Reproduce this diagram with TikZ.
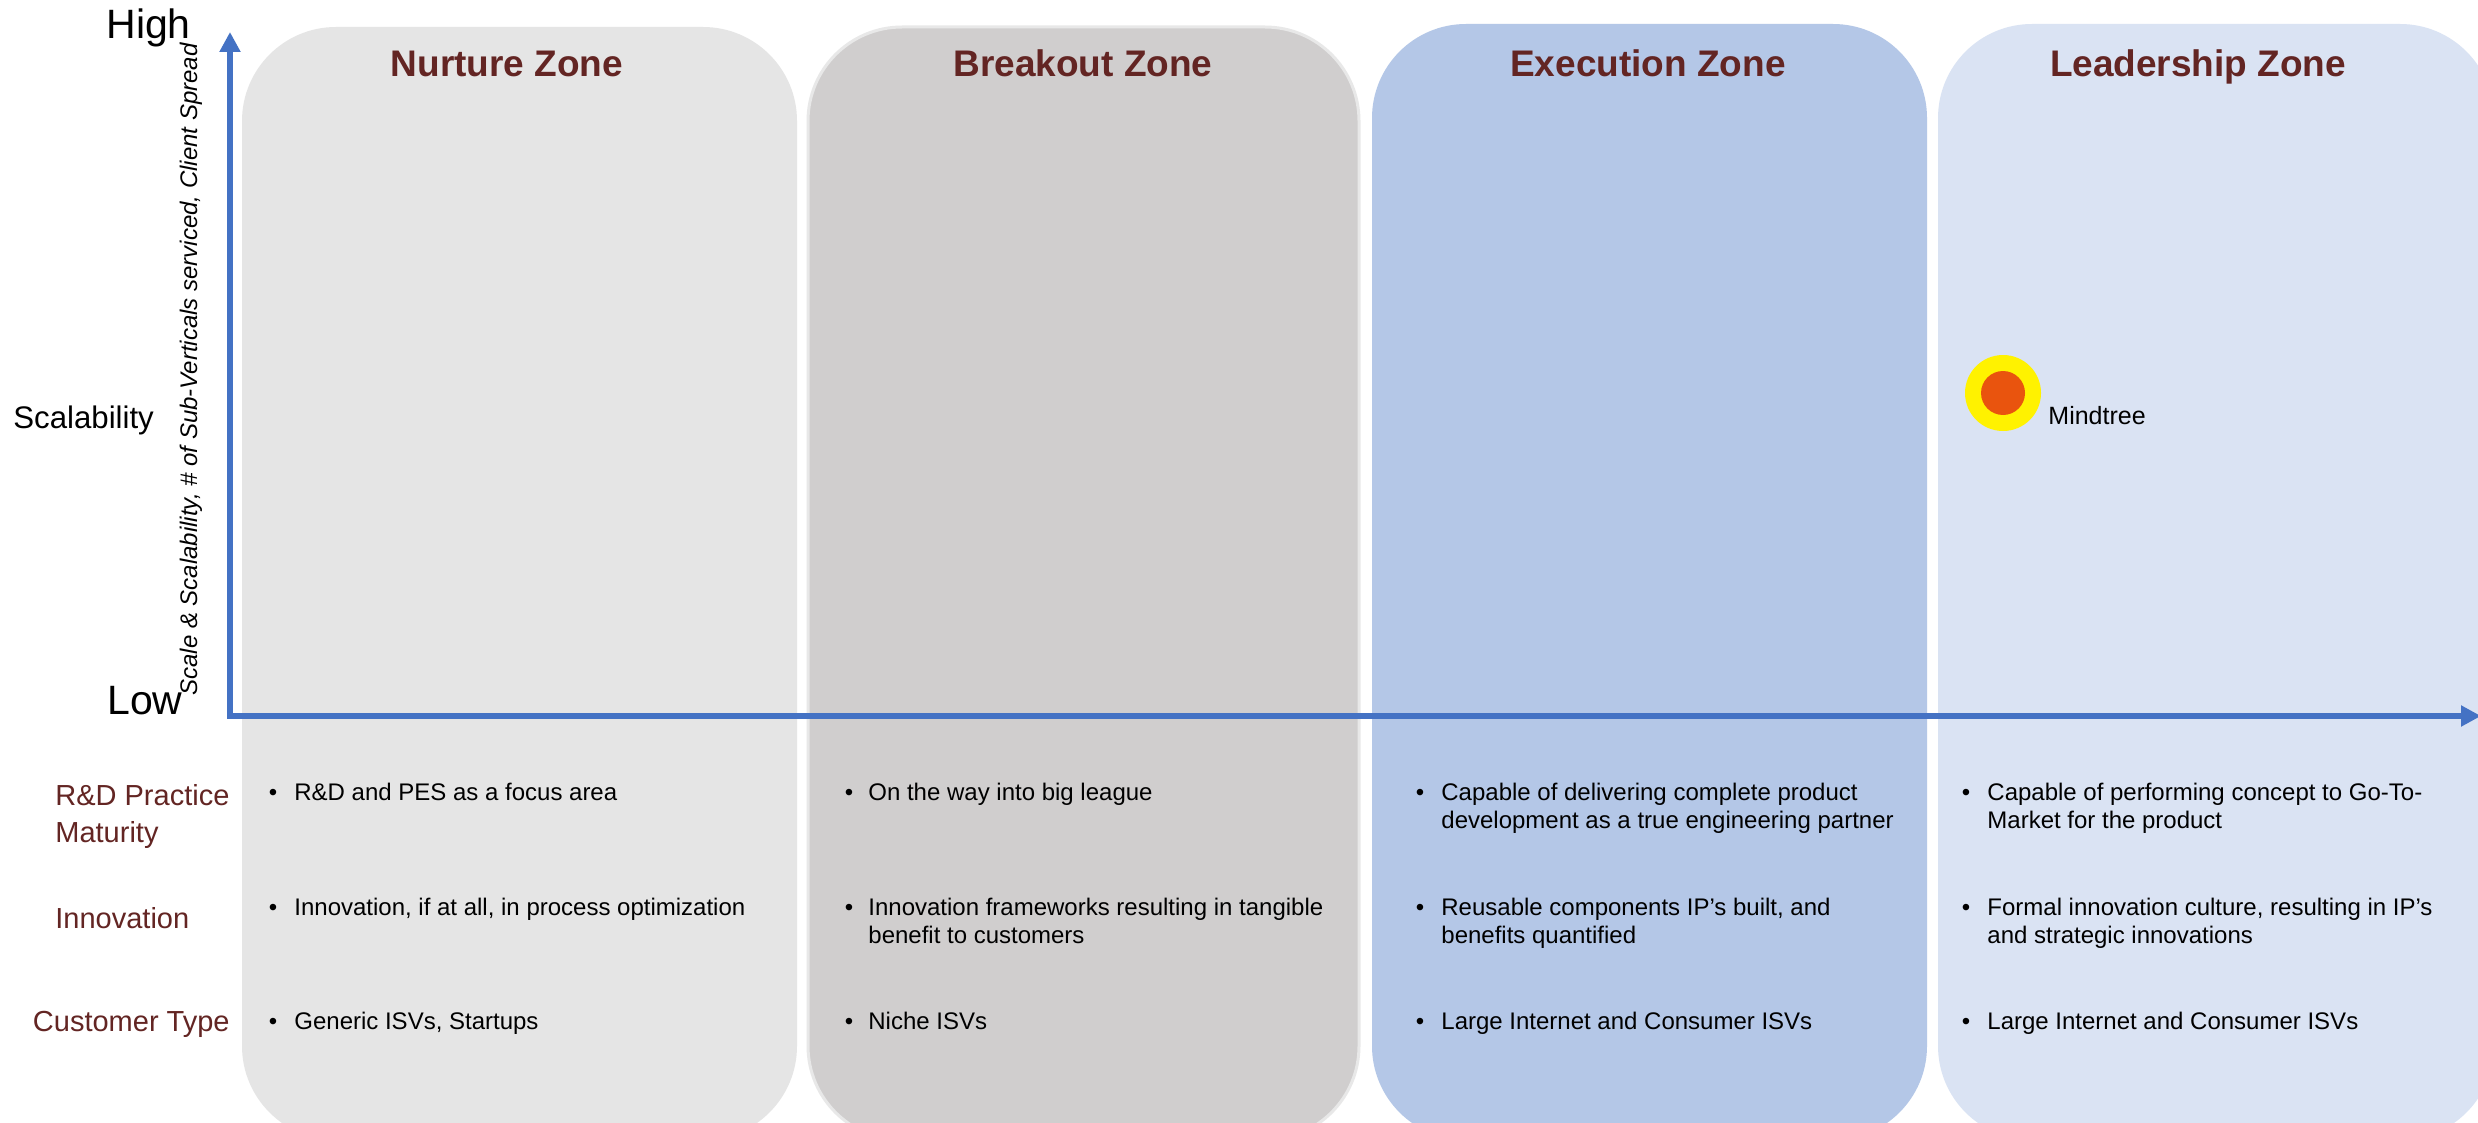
\documentclass[tikz,border=0pt]{standalone}
\usepackage{fontspec}
\setmainfont{Liberation Sans}
\usetikzlibrary{arrows.meta}
\definecolor{zred}{RGB}{99,37,35}
\definecolor{axisblue}{RGB}{68,114,196}
\definecolor{nurturefill}{RGB}{229,229,229}
\definecolor{breakfill}{RGB}{208,206,206}
\definecolor{breakedge}{RGB}{232,232,232}
\definecolor{execfill}{RGB}{180,199,231}
\definecolor{leadfill}{RGB}{218,227,243}
\definecolor{mtorange}{RGB}{233,84,14}
\newcommand\zoneitem[5]{%
  \node[bul] (#1b) at (#2,#4) {\textbullet};
  \node[btxt] (#1t) at (#3,#4) {\parbox[t]{300pt}{\raggedright #5}};
}
\begin{document}
\begin{tikzpicture}[x=0.5pt,y=-0.5pt,
  zone/.style={rounded corners=47pt},
  ztitle/.style={anchor=base, text=zred, font=\fontsize{18.5}{22}\selectfont\bfseries, inner sep=0},
  rowlab/.style={anchor=base west, text=zred, font=\fontsize{14.5}{18.5}\selectfont, inner sep=0},
  bul/.style={anchor=base, font=\fontsize{12}{14.25}\selectfont, inner sep=0},
  btxt/.style={anchor=base west, font=\fontsize{12}{14.25}\selectfont, inner sep=0},
  axisline/.style={line width=3pt, draw=axisblue, -{Triangle[length=10pt,width=10pt]}},
  big/.style={anchor=base west, font=\fontsize{20.5}{24}\selectfont, inner sep=0}
]
\useasboundingbox (0,0) rectangle (2478,1123);
\clip (0,0) rectangle (2478,1123);
\fill[white] (0,0) rectangle (2478,1123);

% zones
\fill[nurturefill, zone] (242,27) rectangle (797,1140);
\filldraw[fill=breakfill, draw=breakedge, line width=1.5pt, zone] (808,27) rectangle (1359,1140);
\fill[execfill, zone] (1372,24) rectangle (1927,1140);
\fill[leadfill, zone] (1938,24) rectangle (2494,1140);

% titles
\node[ztitle] (tn) at (507,77) {Nurture Zone};
\node[ztitle] (tb) at (1083,77) {Breakout Zone};
\node[ztitle] (te) at (1648,77) {Execution Zone};
\node[ztitle] (tl) at (2198,77) {Leadership Zone};

% axes
\coordinate (O) at (230,716);
\coordinate (Oc) at (227,716);
\coordinate (Ytip) at (230,32);
\coordinate (Xtip) at (2481,716);
\draw[axisline] (O) -- (Ytip);
\draw[axisline] (Oc) -- (Xtip);

\node[big] (high) at (106,39) {High};
\node[big] (low) at (107,714) {Low};
\node[anchor=base west, font=\fontsize{15.6}{18}\selectfont, inner sep=0] (scal) at (13,428) {Scalability};
\node[rotate=90, anchor=base west, font=\fontsize{12}{14}\selectfont\itshape, inner sep=0] (ylab) at (197,696)
  {Scale \& Scalability, \# of Sub-Verticals serviced, Client Spread};

% Mindtree
\node[circle, fill=yellow, minimum size=38pt, inner sep=0] (mt) at (2003,393) {};
\node[circle, fill=mtorange, minimum size=22pt, inner sep=0] (mtin) at (mt) {};
\node[anchor=base west, font=\fontsize{12.5}{15}\selectfont, inner sep=0] (mtl) at (2048,424) {Mindtree};

% row labels
\node[rowlab] (l1) at (55,805) {\parbox[t]{120pt}{\raggedright R\&D Practice\\Maturity}};
\node[rowlab] (l2) at (55,928) {Innovation};
\node[rowlab, anchor=base east] (l3) at (230,1031) {Customer Type};

% items
\zoneitem{n1}{273}{294}{800}{R\&D and PES as a focus area}
\zoneitem{n2}{273}{294}{915}{Innovation, if at all, in process optimization}
\zoneitem{n3}{273}{294}{1029}{Generic ISVs, Startups}

\zoneitem{b1}{849}{868}{800}{On the way into big league}
\zoneitem{b2}{849}{868}{915}{Innovation frameworks resulting in tangible\\benefit to customers}
\zoneitem{b3}{849}{868}{1029}{Niche ISVs}

\zoneitem{e1}{1420}{1441}{800}{Capable of delivering complete product\\development as a true engineering partner}
\zoneitem{e2}{1420}{1441}{915}{Reusable components IP’s built, and\\benefits quantified}
\zoneitem{e3}{1420}{1441}{1029}{Large Internet and Consumer ISVs}

\zoneitem{l1}{1966}{1987}{800}{Capable of performing concept to Go-To-\\Market for the product}
\zoneitem{l2}{1966}{1987}{915}{Formal innovation culture, resulting in IP’s\\and strategic innovations}
\zoneitem{l3}{1966}{1987}{1029}{Large Internet and Consumer ISVs}
\end{tikzpicture}
\end{document}
